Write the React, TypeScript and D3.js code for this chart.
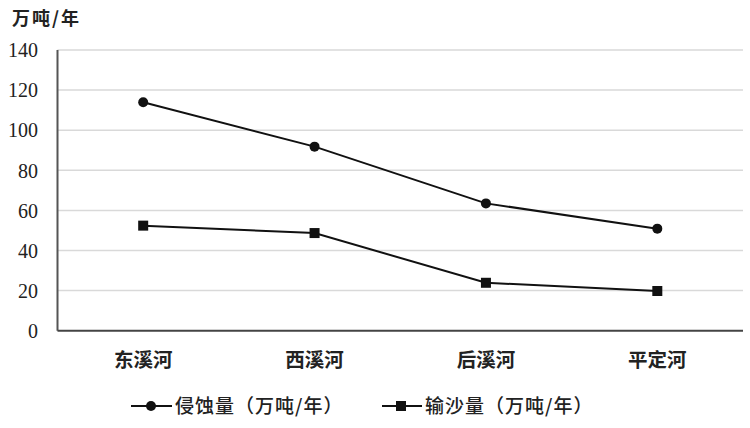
import React from "react";
import * as d3 from "d3";

const categories = ["东溪河", "西溪河", "后溪河", "平定河"];
const erosion = [113.9, 91.8, 63.5, 50.9];
const sediment = [52.4, 48.7, 23.9, 19.8];
const yTicks = [0, 20, 40, 60, 80, 100, 120, 140];
const unitLabel = "万吨/年";
const seriesNames = ["侵蚀量（万吨/年）", "输沙量（万吨/年）"];

const W = 750;
const H = 428;
const left = 57.5;
const right = 743;
const top = 50;
const bottom = 330.7;
const FONT = "'Liberation Serif', 'Noto Sans CJK SC', serif";
const CJK = "'Noto Sans CJK SC', 'Liberation Serif', serif";

export default function App() {
  const x = d3.scaleBand<string>().domain(categories).range([left, right]);
  const cx = (c: string) => (x(c) ?? 0) + x.bandwidth() / 2;
  const y = d3.scaleLinear().domain([0, 140]).range([bottom, top]);
  const line = d3
    .line<number>()
    .x((_, i) => cx(categories[i]))
    .y((d) => y(d));

  return (
    <svg
      width={W}
      height={H}
      style={{ position: "absolute", left: 0, top: 0, background: "#fff" }}
    >
      <rect x={0} y={0} width={W} height={H} fill="#fff" />
      {yTicks.map((t) =>
        t === 0 ? null : (
          <line
            key={"g" + t}
            x1={left}
            x2={right}
            y1={y(t)}
            y2={y(t)}
            stroke="#d9d9d9"
            strokeWidth={1.5}
          />
        )
      )}
      {yTicks.map((t) => (
        <text
          key={"t" + t}
          x={38}
          y={y(t)}
          dy="0.36em"
          textAnchor="end"
          fontFamily={FONT}
          fontSize={20}
          fill="#222"
        >
          {t}
        </text>
      ))}
      <line x1={left} x2={left} y1={top} y2={bottom} stroke="#555" strokeWidth={2} />
      <line x1={left} x2={right} y1={bottom} y2={bottom} stroke="#444" strokeWidth={2} />
      <text
        x={12}
        y={25}
        fontFamily={CJK}
        fontSize={18}
        fontWeight={600}
        letterSpacing={2}
        fill="#222"
      >
        {unitLabel}
      </text>
      {categories.map((c) => (
        <text
          key={c}
          x={cx(c)}
          y={367}
          textAnchor="middle"
          fontFamily={CJK}
          fontSize={19.5}
          fontWeight={600}
          fill="#222"
        >
          {c}
        </text>
      ))}
      <path d={line(erosion) ?? ""} fill="none" stroke="#111" strokeWidth={2} />
      <path d={line(sediment) ?? ""} fill="none" stroke="#111" strokeWidth={2} />
      {erosion.map((v, i) => (
        <circle key={"c" + i} cx={cx(categories[i])} cy={y(v)} r={5} fill="#111" />
      ))}
      {sediment.map((v, i) => (
        <rect
          key={"s" + i}
          x={cx(categories[i]) - 5}
          y={y(v) - 5}
          width={10}
          height={10}
          fill="#111"
        />
      ))}
      {/* legend */}
      <line x1={131} x2={172} y1={406} y2={406} stroke="#111" strokeWidth={2} />
      <circle cx={151} cy={406} r={5} fill="#111" />
      <text
        x={175}
        y={413}
        fontFamily={CJK}
        fontSize={19}
        fontWeight={500}
        letterSpacing={1}
        fill="#222"
      >
        {seriesNames[0]}
      </text>
      <line x1={382} x2={422} y1={406} y2={406} stroke="#111" strokeWidth={2} />
      <rect x={396} y={401} width={10} height={10} fill="#111" />
      <text
        x={425}
        y={413}
        fontFamily={CJK}
        fontSize={19}
        fontWeight={500}
        letterSpacing={1}
        fill="#222"
      >
        {seriesNames[1]}
      </text>
    </svg>
  );
}
